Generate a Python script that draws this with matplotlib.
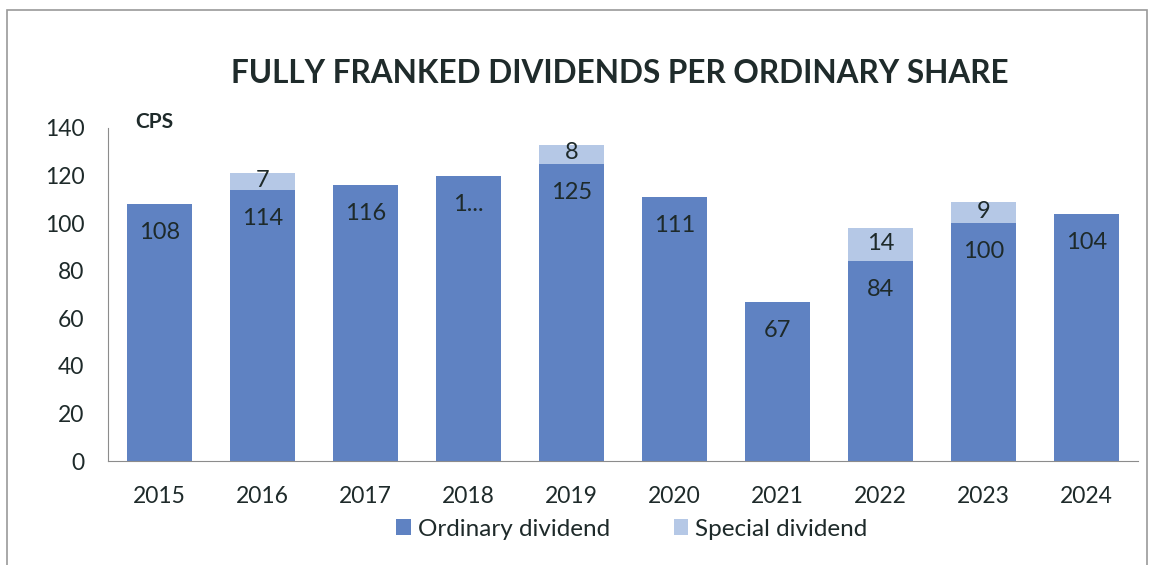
"""
Fully franked dividends per ordinary share, stacked bars (ordinary + special).
"""

import matplotlib.pyplot as plt
from matplotlib.patches import Rectangle
import numpy as np

years = ["2015", "2016", "2017", "2018", "2019", "2020", "2021", "2022", "2023", "2024"]
ordinary = [108, 114, 116, 120, 125, 111, 67, 84, 100, 104]
special = [0, 7, 0, 0, 8, 0, 0, 14, 9, 0]
ordinary_labels = ["108", "114", "116", "1...", "125", "111", "67", "84", "100", "104"]

ORD_COLOR = "#5f82c2"
SPEC_COLOR = "#b5c8e6"
TEXT_COLOR = "#1e2a2a"

plt.rcParams["font.family"] = ["Lato", "DejaVu Sans"]

fig = plt.figure(figsize=(11.49, 5.65), dpi=100)
ax = fig.add_axes([108 / 1149, 1 - 461 / 565, 1030 / 1149, 333 / 565])

# outer frame like the pasted chart
fig.patches.append(Rectangle((7 / 1149, -0.05), 1140 / 1149, 1.05 - 10 / 565,
                             transform=fig.transFigure, fill=False,
                             edgecolor="#9a9a9a", linewidth=1.2))

x = np.arange(len(years))
ax.bar(x, ordinary, width=0.64, color=ORD_COLOR, label="Ordinary dividend")
ax.bar(x, special, width=0.64, bottom=ordinary, color=SPEC_COLOR,
       label="Special dividend")

# data labels
for i in range(len(years)):
    ax.text(x[i], ordinary[i] - 12, ordinary_labels[i], ha="center", va="center",
            fontsize=17, color=TEXT_COLOR)
    if special[i] > 0:
        ax.text(x[i], ordinary[i] + special[i] / 2 + 0.5, str(special[i]),
                ha="center", va="center", fontsize=17, color=TEXT_COLOR)

ax.set_xlim(-0.5, len(years) - 0.5)
ax.set_ylim(0, 140)
ax.set_yticks(range(0, 141, 20))
ax.set_xticks(x)
ax.set_xticklabels(years)
ax.tick_params(axis="both", length=0, labelsize=16.5, colors=TEXT_COLOR)
ax.tick_params(axis="y", pad=17)
ax.tick_params(axis="x", pad=18)

for side in ["top", "right"]:
    ax.spines[side].set_visible(False)
ax.spines["left"].set_color("#8c8c8c")
ax.spines["bottom"].set_color("#8c8c8c")

ax.text(0.026, 142.5, "CPS", transform=ax.get_yaxis_transform(), ha="left",
        va="center", fontsize=15, fontweight="bold", color=TEXT_COLOR)

fig.text(620 / 1149, 1 - 73 / 565, "FULLY FRANKED DIVIDENDS PER ORDINARY SHARE",
         ha="center", va="center", fontsize=22.7, fontweight="bold",
         color="#1f2b2b")

fig.legend(loc="center", bbox_to_anchor=(632 / 1149, 1 - 529 / 565), ncol=2,
           frameon=False, fontsize=17.5, handlelength=0.6, handleheight=0.6,
           handletextpad=0.3, columnspacing=2.6, labelcolor=TEXT_COLOR)

fig.savefig("out.png", dpi=100)
